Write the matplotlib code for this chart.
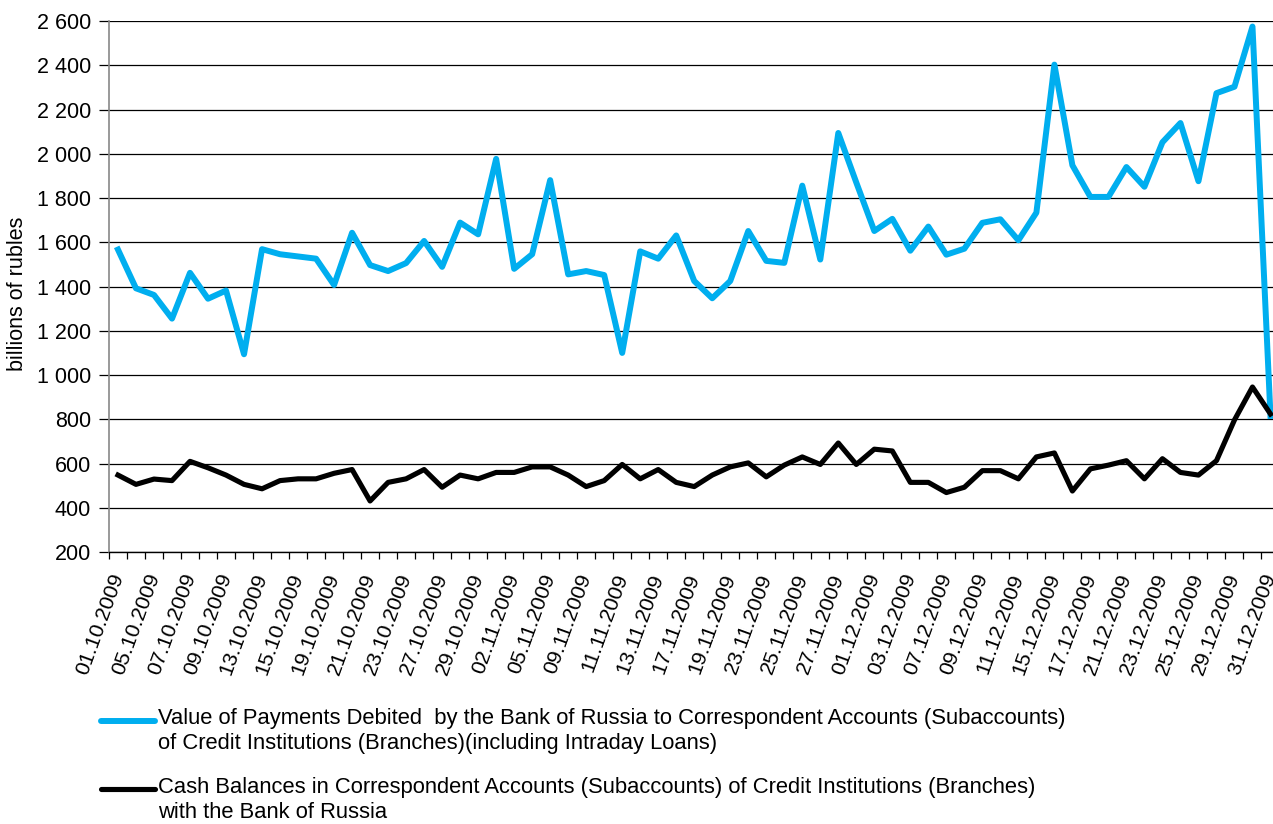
import numpy as np
import matplotlib
matplotlib.use("Agg")
import matplotlib.pyplot as plt
from matplotlib.lines import Line2D
from matplotlib.ticker import FuncFormatter
from matplotlib.transforms import ScaledTranslation

plt.rcParams['font.family'] = ['Liberation Sans', 'DejaVu Sans']

# business days, Oct-Dec 2009
dates = ['01.10', '02.10', '05.10', '06.10', '07.10', '08.10', '09.10', '12.10', '13.10', '14.10',
         '15.10', '16.10', '19.10', '20.10', '21.10', '22.10', '23.10', '26.10', '27.10', '28.10',
         '29.10', '30.10',
         '02.11', '03.11', '05.11', '06.11', '09.11', '10.11', '11.11', '12.11', '13.11', '16.11',
         '17.11', '18.11', '19.11', '20.11', '23.11', '24.11', '25.11', '26.11', '27.11', '30.11',
         '01.12', '02.12', '03.12', '04.12', '07.12', '08.12', '09.12', '10.12', '11.12', '14.12',
         '15.12', '16.12', '17.12', '18.12', '21.12', '22.12', '23.12', '24.12', '25.12', '28.12',
         '29.12', '30.12', '31.12']
date_labels = [d + '.2009' for d in dates]

# value of payments debited, billions of rubles
payments = [1567, 1392, 1362, 1255, 1462, 1345, 1382, 1094, 1569, 1546,
            1536, 1526, 1407, 1643, 1497, 1470, 1506, 1606, 1489, 1689,
            1636, 1977,
            1480, 1546, 1881, 1455, 1470, 1452, 1100, 1559, 1526, 1631,
            1425, 1347, 1425, 1651, 1516, 1507, 1856, 1522, 2094, 1870,
            1651, 1706, 1562, 1671, 1544, 1571, 1688, 1704, 1609, 1734,
            2403, 1948, 1805, 1805, 1940, 1851, 2052, 2139, 1876, 2274,
            2303, 2575, 815]

# cash balances in correspondent accounts, billions of rubles
balances = [548, 506, 530, 523, 610, 581, 548, 506, 486, 523,
            531, 531, 556, 573, 431, 515, 531, 573, 493, 548,
            531, 560,
            560, 585, 585, 548, 496, 523, 596, 531, 573, 515,
            496, 548, 585, 603, 540, 593, 630, 596, 693, 596,
            665, 657, 515, 515, 469, 493, 568, 568, 531, 630,
            648, 476, 576, 593, 613, 531, 622, 560, 548, 613,
            797, 946, 824]

label_pay = ('Value of Payments Debited  by the Bank of Russia to Correspondent Accounts (Subaccounts)\n'
             'of Credit Institutions (Branches)(including Intraday Loans)')
label_bal = ('Cash Balances in Correspondent Accounts (Subaccounts) of Credit Institutions (Branches)\n'
             'with the Bank of Russia')

blue = '#00AEEF'
W, H = 1273, 824

fig = plt.figure(figsize=(W / 100, H / 100), dpi=100)
ax = fig.add_axes([0.0856, 0.330, 0.9195, 0.6445])

x = np.arange(len(dates))
ax.plot(x, payments, color=blue, lw=4.3, solid_joinstyle='round', clip_on=False, zorder=3)
ax.plot(x, balances, color='black', lw=3.7, solid_joinstyle='round', clip_on=False, zorder=3)

ax.set_xlim(-0.5, len(dates) - 0.5)
ax.set_ylim(200, 2600)
ax.set_yticks(np.arange(200, 2601, 200))
ax.yaxis.set_major_formatter(FuncFormatter(lambda v, p: f'{v:,.0f}'.replace(',', ' ')))
ax.grid(axis='y', color='black', lw=0.9)
ax.set_axisbelow(True)

ax.set_xticks(x[::2])
ax.set_xticklabels(date_labels[::2], rotation=70, ha='right', va='center',
                   rotation_mode='anchor', fontsize=15.3)
shift = ScaledTranslation(-10 / 100, -1 / 100, fig.dpi_scale_trans)
for lbl in ax.get_xticklabels():
    lbl.set_transform(lbl.get_transform() + shift)
ax.set_xticks(np.arange(-0.5, len(dates), 1), minor=True)
ax.tick_params(axis='x', which='major', length=0, pad=16)
ax.tick_params(axis='x', which='minor', length=5, width=0.9, direction='out')
ax.tick_params(axis='y', length=7, width=0.9, labelsize=15.5, pad=6)

for s in ['top', 'right']:
    ax.spines[s].set_visible(False)
ax.spines['left'].set_color('#888888')
ax.spines['left'].set_linewidth(1.2)
ax.spines['bottom'].set_linewidth(1.0)

fig.text(0.014, 1 - 294 / H, 'billions of rubles', rotation=90, fontsize=15.5,
         ha='center', va='center')

# legend
fig.add_artist(Line2D([101 / W, 155 / W], [1 - 721 / H, 1 - 721 / H],
                      color=blue, lw=4.3, solid_capstyle='round'))
fig.text(158 / W, 1 - 708 / H, label_pay, fontsize=15.8, ha='left', va='top',
         linespacing=1.22)
fig.add_artist(Line2D([101 / W, 155 / W], [1 - 789 / H, 1 - 789 / H],
                      color='black', lw=3.7, solid_capstyle='round'))
fig.text(158 / W, 1 - 777 / H, label_bal, fontsize=15.8, ha='left', va='top',
         linespacing=1.22)

fig.savefig('out.png', dpi=100)
